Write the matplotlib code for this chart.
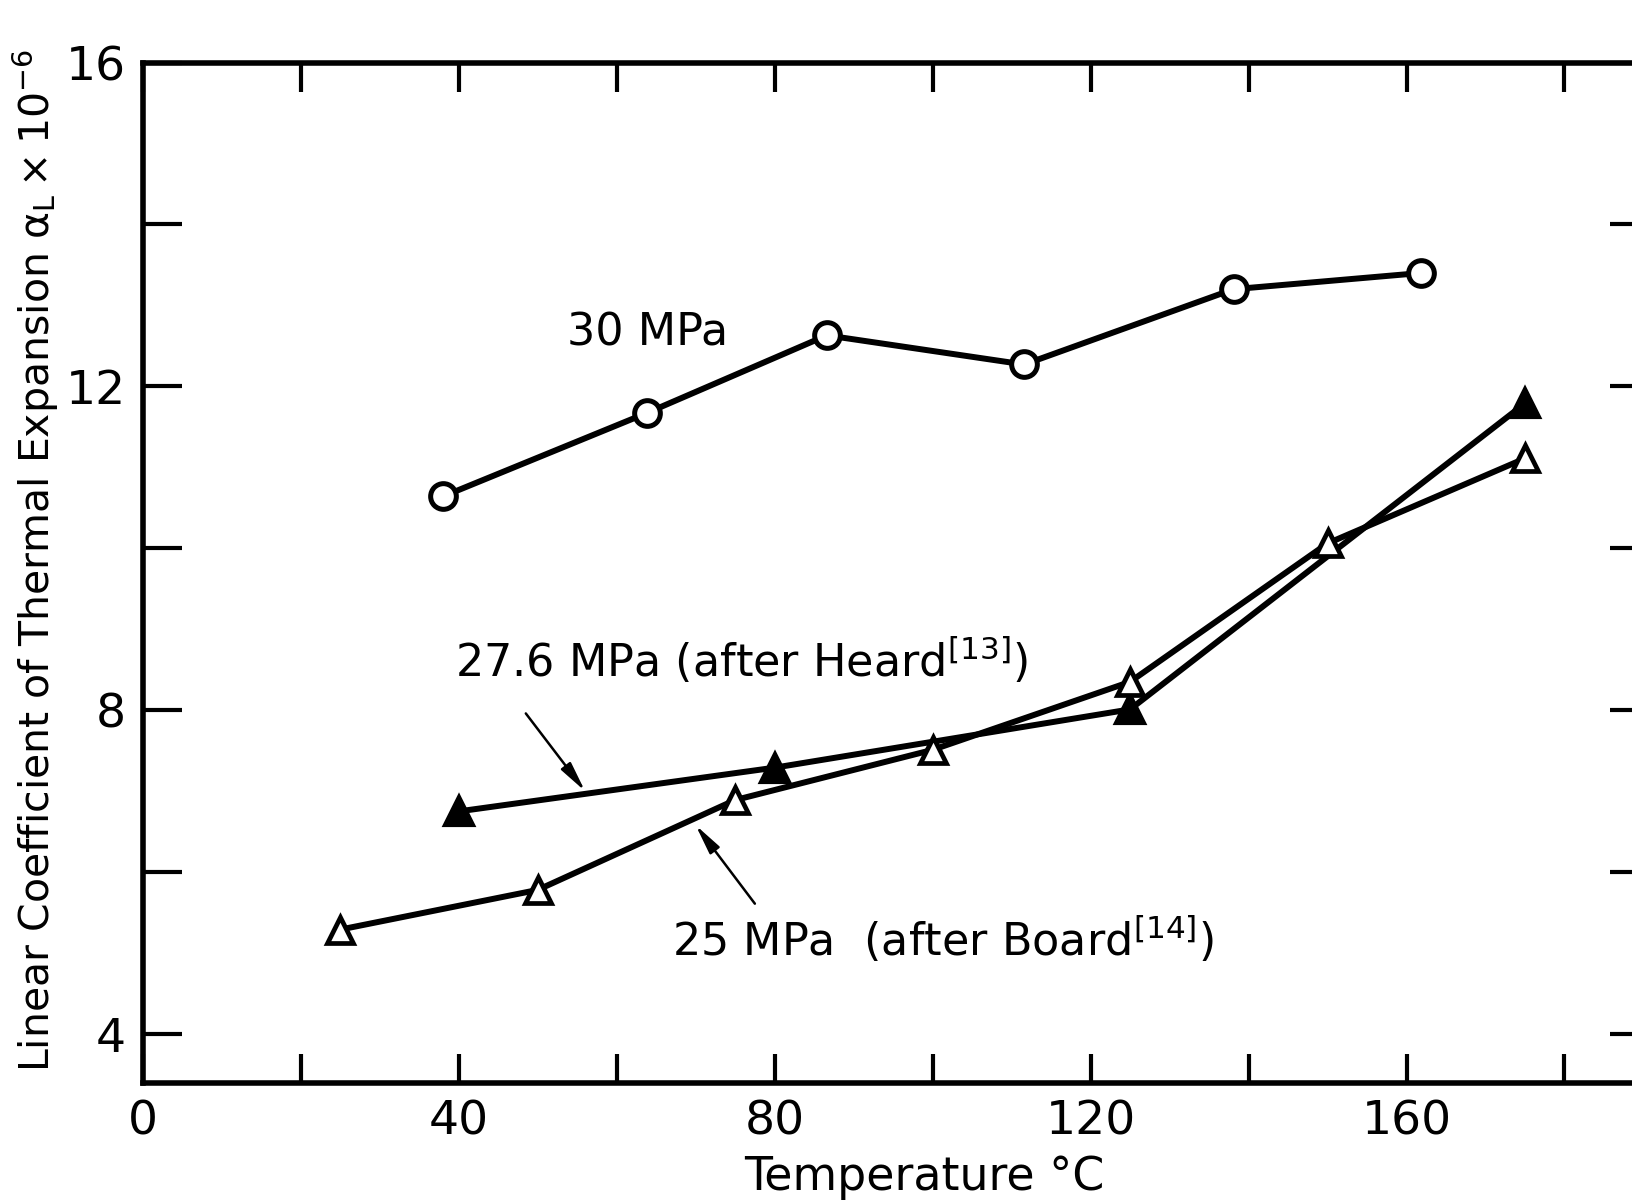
import matplotlib
matplotlib.use("Agg")
import matplotlib.pyplot as plt
from matplotlib.ticker import FixedLocator

# ---- data ----
t_30 = [38, 63.8, 86.6, 111.6, 138.1, 161.8]
a_30 = [10.64, 11.67, 12.63, 12.27, 13.20, 13.40]

t_276 = [40, 80, 125, 175]
a_276 = [6.75, 7.29, 8.01, 11.79]

t_25 = [25, 50, 75, 100, 125, 150, 175]
a_25 = [5.29, 5.78, 6.89, 7.51, 8.35, 10.06, 11.11]

x_major = [0, 40, 80, 120, 160]
x_minor = [20, 60, 100, 140, 180]
y_major = [4, 8, 12, 16]
y_minor = [6, 10, 14]

label_30 = "30 MPa"
label_276 = r"27.6 MPa (after Heard$^{[13]}$)"
label_25 = r"25 MPa  (after Board$^{[14]}$)"

plt.rcParams['font.family'] = ['DejaVu Sans']
plt.rcParams['mathtext.default'] = 'regular'

fig = plt.figure(figsize=(16.33, 12), dpi=100)
ax = fig.add_axes([0.0874, 0.0975, 0.9224, 0.8504])
ax.set_xlim(0, 190.7)
ax.set_ylim(3.395, 16)

lw = 4.3
ax.plot(t_30, a_30, color='black', lw=lw, marker='o', ms=18.5, mfc='white',
        mec='black', mew=3.6, zorder=3)
ax.plot(t_276, a_276, color='black', lw=lw, marker='^', ms=20, mfc='black',
        mec='black', mew=3.0, zorder=3)
ax.plot(t_25, a_25, color='black', lw=lw, marker='^', ms=19, mfc='white',
        mec='black', mew=3.4, zorder=3)

for s in ax.spines.values():
    s.set_linewidth(4.0)

ax.xaxis.set_major_locator(FixedLocator(x_major))
ax.xaxis.set_minor_locator(FixedLocator(x_minor))
ax.yaxis.set_major_locator(FixedLocator(y_major))
ax.yaxis.set_minor_locator(FixedLocator(y_minor))
ax.set_xticklabels([str(v) for v in x_major])
ax.set_yticklabels([str(v) for v in y_major])

ax.tick_params(axis='x', which='both', direction='in', length=21, width=3.0,
               top=True, bottom=True, labelsize=34, pad=12)
ax.tick_params(axis='y', which='both', direction='in', length=28, width=3.0,
               left=True, right=True, labelsize=34, pad=12)

ax.set_xlabel("Temperature °C", fontsize=33)
ax.xaxis.set_label_coords(0.519, -0.071)
ax.set_ylabel(r"Linear Coefficient of Thermal Expansion $\alpha_L\times10^{-6}$",
              fontsize=29.5)
ax.yaxis.set_label_coords(-0.054, 0.512)

ax.text(63.9, 12.66, label_30, fontsize=32, ha='center', va='center')
ax.text(39.5, 8.41, label_276, fontsize=32, ha='left', va='baseline')
ax.text(67.0, 4.96, label_25, fontsize=32, ha='left', va='baseline')

arrow = dict(arrowstyle='-|>,head_length=0.9,head_width=0.18', lw=1.8,
             color='black', shrinkA=0, shrinkB=0, mutation_scale=20)
ax.annotate("", xy=(56.0, 7.0), xytext=(48.5, 7.96), arrowprops=arrow)
ax.annotate("", xy=(70.0, 6.58), xytext=(77.5, 5.61), arrowprops=arrow)

fig.savefig("out.png", dpi=100)
